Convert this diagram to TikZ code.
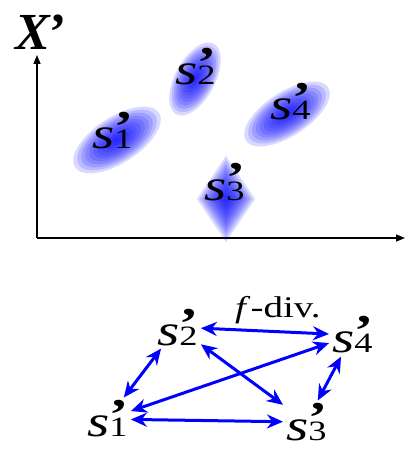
\documentclass[tikz,border=0pt]{standalone}
\usepackage{fontspec}
\setmainfont{Liberation Serif}
\newfontfamily\labfont[FakeStretch=1.3]{Liberation Serif}
\usetikzlibrary{arrows.meta}

% s' with index, apostrophe stacked over the index
\newcommand{\sname}[1]{{\labfont\fontsize{44}{44}\selectfont\textit{s}\rlap{\raisebox{7pt}{\bfseries’}}\fontsize{28}{28}\selectfont#1}}

\tikzset{
  lab/.style={inner sep=3pt, anchor=base west},
  link/.style={draw=blue, line width=3pt,
    {Stealth[length=16pt,width=14pt]}-{Stealth[length=16pt,width=14pt]}},
  blob/.style={fill=blue, opacity=.15},
  axis/.style={line width=1.5pt, -{Triangle[length=9pt,width=7pt]}}
}

\begin{document}
\begin{tikzpicture}[x=1pt,y=1pt]
  \useasboundingbox (0,0) rectangle (407,451);

  % axes
  \coordinate (O) at (37,213);
  \coordinate (ytop) at (37,396);
  \coordinate (xend) at (405,213);
  \draw[axis] (O) -- (ytop);
  \draw[axis] (O) -- (xend);
  \node[anchor=base west, inner sep=0] (X) at (15,401)
    {\fontsize{52}{52}\selectfont\bfseries\itshape X\upshape’};

  % clusters
  \foreach \x/\y/\r/\a/\b in {117/311/33/50/23, 195/372/62/40/20, 287/337/33/49/22} {
    \foreach \k in {0,...,10}
      \fill[blob, shift={(\x,\y)}, rotate=\r]
        (0,0) ellipse [x radius={\a*(1-\k/11)*1pt}, y radius={\b*(1-\k/11)*1pt}];
  }
  \foreach \k in {0,...,10}
    \fill[blob, shift={(226,252)}, scale={1-\k/11}]
      (0,43) -- (29,0) -- (0,-43) -- (-29,0) -- cycle;

  \node[lab] (p1) at (89,302) {\sname{1}};
  \node[lab] (p2) at (172,366) {\sname{2}};
  \node[lab] (p3) at (201,251) {\sname{3}};
  \node[lab] (p4) at (267,331) {\sname{4}};

  % divergence graph
  \node[lab] (s1) at (84,14) {\sname{1}};
  \node[lab] (s2) at (154,106) {\sname{2}};
  \node[lab] (s3) at (283,11) {\sname{3}};
  \node[lab] (s4) at (329,98) {\sname{4}};
  \node[anchor=base west, inner sep=0] (fdiv) at (235,133)
    {\labfont\fontsize{30}{30}\selectfont\textit{f}-div.};

  \draw[link] (s2) -- (s4);
  \draw[link] (s2) -- (s1);
  \draw[link] (s1) -- (s4);
  \draw[link] (s2) -- (s3);
  \draw[link] (s1) -- (s3);
  \draw[link] (s4) -- (s3);
\end{tikzpicture}
\end{document}
